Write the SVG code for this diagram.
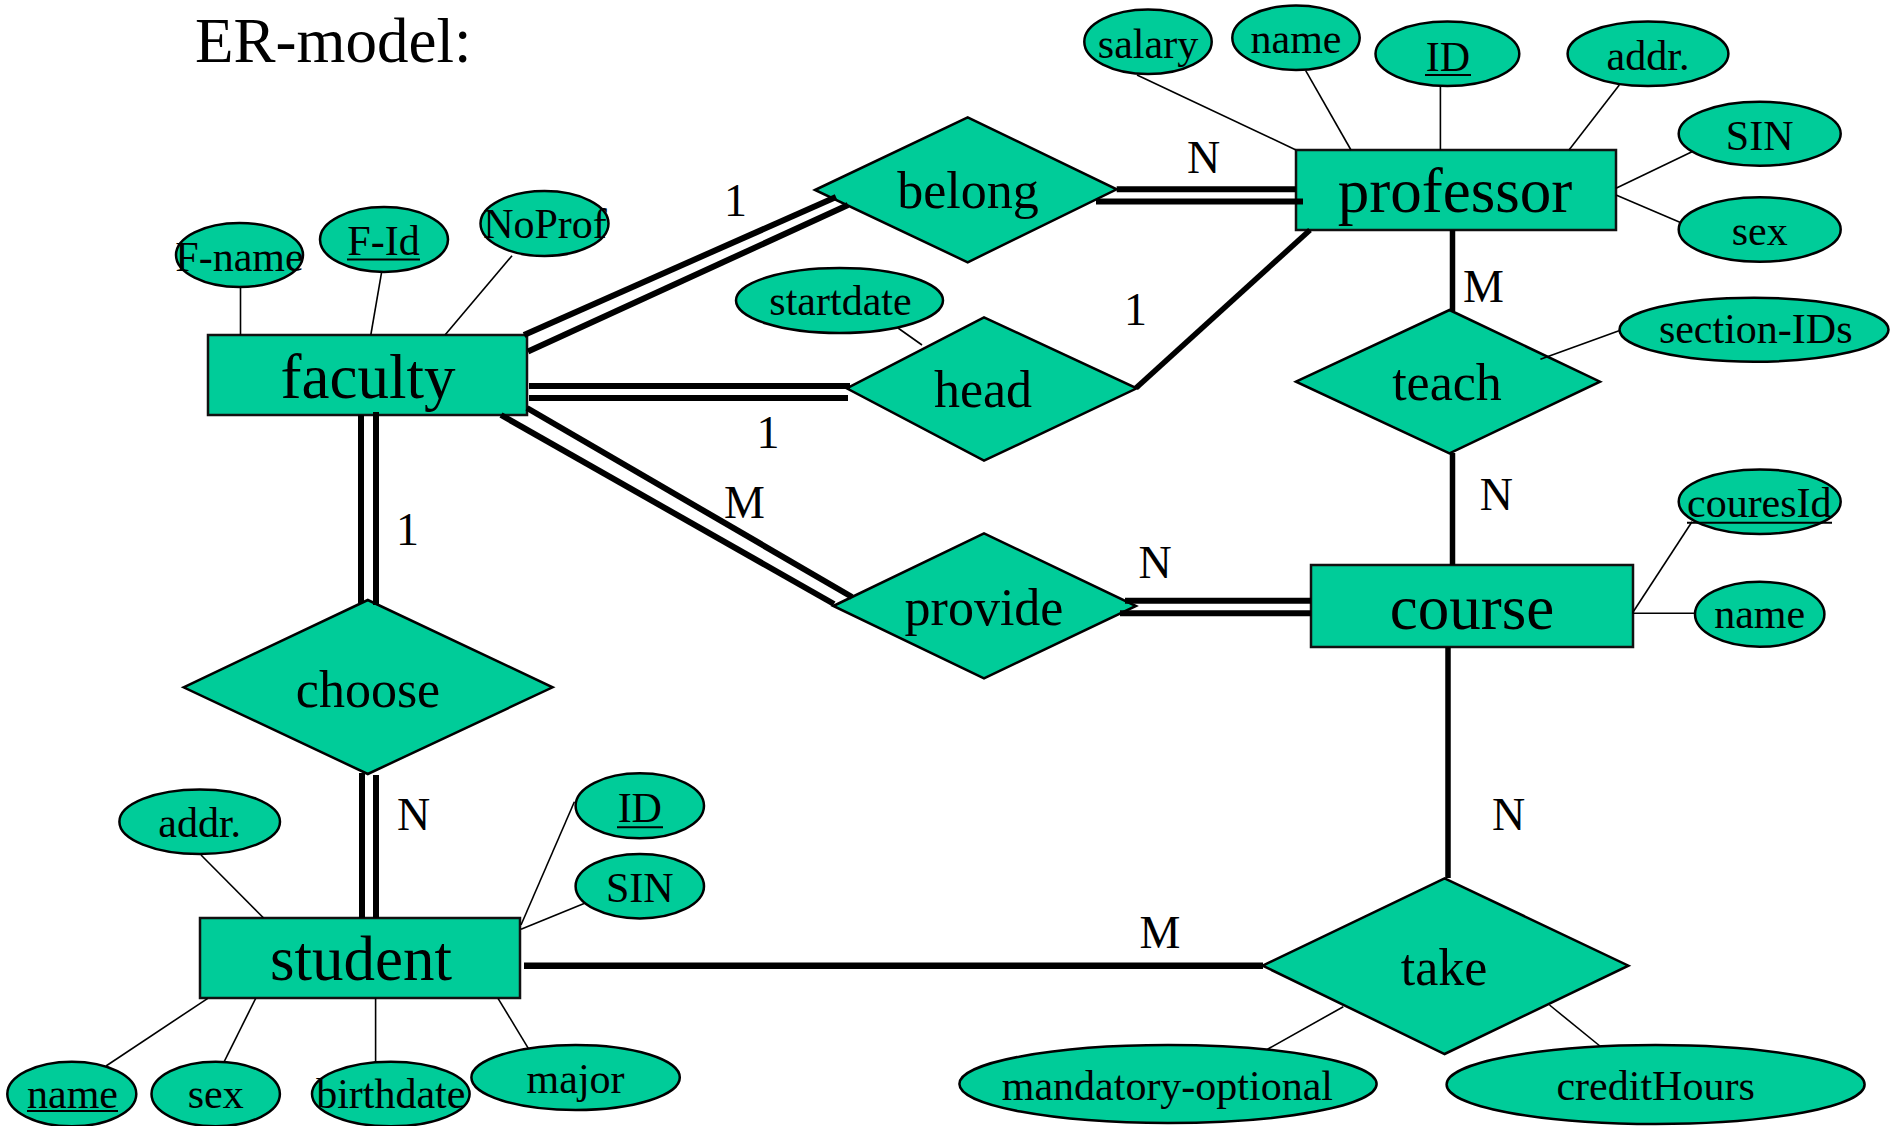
<svg xmlns="http://www.w3.org/2000/svg" width="1891" height="1126" viewBox="0 0 1891 1126">
  <style>
    text { font-family: "Liberation Serif", "Times New Roman", serif; fill: #000; }
    .ent rect { fill: #00CC99; stroke: #111; stroke-width: 2.5; }
    .rel polygon { fill: #00CC99; stroke: #000; stroke-width: 2.5; }
    .att ellipse { fill: #00CC99; stroke: #000; stroke-width: 2.5; }
    .ent text { font-size: 63px; text-anchor: middle; }
    .rel text { font-size: 52px; text-anchor: middle; }
    .att text { font-size: 42px; text-anchor: middle; }
    .key { stroke: #000; stroke-width: 2; }
    .card { font-size: 46px; text-anchor: middle; }
    .title { font-size: 63px; }
    #connectors line { stroke: #000; stroke-linecap: butt; }
    #connectors .dbl { stroke-width: 6; }
    #connectors .one { stroke-width: 5.5; }
    #connectors .attr { stroke-width: 1.6; }
  </style>

  <text class="title" x="195" y="62">ER-model:</text>

  <!-- entities -->
  <g id="faculty" class="ent">
    <rect x="208" y="335" width="319" height="80"/>
    <text x="368" y="398">faculty</text>
  </g>
  <g id="professor" class="ent">
    <rect x="1296" y="150" width="320" height="80"/>
    <text x="1455" y="212">professor</text>
  </g>
  <g id="course" class="ent">
    <rect x="1311" y="565" width="322" height="82"/>
    <text x="1472" y="629">course</text>
  </g>
  <g id="student" class="ent">
    <rect x="200" y="918" width="320" height="80"/>
    <text x="361" y="980">student</text>
  </g>

  <!-- relationships -->
  <g id="belong" class="rel">
    <polygon points="815,190 967.7,117.3 1116.7,189.3 967.7,262.3"/>
    <text x="968" y="208">belong</text>
  </g>
  <g id="head" class="rel">
    <polygon points="846.7,388.3 984,317.3 1136.7,388.3 984,460.7"/>
    <text x="983" y="407">head</text>
  </g>
  <g id="provide" class="rel">
    <polygon points="833.3,606 984,533.3 1136,606 984,678.3"/>
    <text x="984" y="625">provide</text>
  </g>
  <g id="teach" class="rel">
    <polygon points="1296,381.7 1449.5,310 1600,381.7 1449.5,453.3"/>
    <text x="1447" y="400">teach</text>
  </g>
  <g id="choose" class="rel">
    <polygon points="183.6,687.3 367.8,600 552.6,687.3 367.8,774"/>
    <text x="368" y="707">choose</text>
  </g>
  <g id="take" class="rel">
    <polygon points="1262.7,965.7 1444.6,878.3 1628.4,965.7 1444.6,1054"/>
    <text x="1444" y="985">take</text>
  </g>

  <!-- attributes -->
  <g id="faculty-fname" class="att">
    <ellipse cx="239.5" cy="255" rx="63.5" ry="32"/>
    <text x="239.5" y="271">F-name</text>
  </g>
  <g id="faculty-fid" class="att">
    <ellipse cx="384" cy="239.5" rx="64" ry="32.5"/>
    <text x="383.5" y="255">F-Id</text>
    <line class="key" x1="347" y1="259.5" x2="420" y2="259.5"/>
  </g>
  <g id="faculty-noprof" class="att">
    <ellipse cx="544.5" cy="223.5" rx="64" ry="32.5"/>
    <text x="545" y="238">NoProf</text>
  </g>
  <g id="head-startdate" class="att">
    <ellipse cx="839.5" cy="300.5" rx="103.5" ry="32.5"/>
    <text x="840.5" y="315">startdate</text>
  </g>
  <g id="prof-salary" class="att">
    <ellipse cx="1148" cy="41.7" rx="63.7" ry="32.3"/>
    <text x="1148" y="58">salary</text>
  </g>
  <g id="prof-name" class="att">
    <ellipse cx="1296" cy="37.8" rx="63.7" ry="32.2"/>
    <text x="1296" y="53">name</text>
  </g>
  <g id="prof-id" class="att">
    <ellipse cx="1447.4" cy="53.8" rx="71.9" ry="32.2"/>
    <text x="1448" y="70.5">ID</text>
    <line class="key" x1="1425" y1="75" x2="1471" y2="75"/>
  </g>
  <g id="prof-addr" class="att">
    <ellipse cx="1648" cy="53.8" rx="80.4" ry="32.2"/>
    <text x="1648" y="70">addr.</text>
  </g>
  <g id="prof-sin" class="att">
    <ellipse cx="1759.7" cy="133.7" rx="81" ry="32"/>
    <text x="1759.7" y="150">SIN</text>
  </g>
  <g id="prof-sex" class="att">
    <ellipse cx="1759.7" cy="229.5" rx="81" ry="32.2"/>
    <text x="1759.7" y="245">sex</text>
  </g>
  <g id="teach-sectionids" class="att">
    <ellipse cx="1754" cy="329.7" rx="134.5" ry="32"/>
    <text x="1755.7" y="343.3">section-IDs</text>
  </g>
  <g id="course-id" class="att">
    <ellipse cx="1759.7" cy="501.7" rx="81" ry="32.3"/>
    <text x="1759.3" y="517.3">couresId</text>
    <line class="key" x1="1687" y1="522.7" x2="1832" y2="522.7"/>
  </g>
  <g id="course-name" class="att">
    <ellipse cx="1759.7" cy="614.2" rx="64.7" ry="32.5"/>
    <text x="1759.7" y="628.3">name</text>
  </g>
  <g id="student-addr" class="att">
    <ellipse cx="199.7" cy="821.7" rx="80.3" ry="32.3"/>
    <text x="199.7" y="837.3">addr.</text>
  </g>
  <g id="student-id" class="att">
    <ellipse cx="639.8" cy="805.8" rx="64.2" ry="32.5"/>
    <text x="639.8" y="821.7">ID</text>
    <line class="key" x1="617" y1="827.3" x2="663" y2="827.3"/>
  </g>
  <g id="student-sin" class="att">
    <ellipse cx="639.8" cy="886.2" rx="64.2" ry="32.2"/>
    <text x="639.8" y="901.7">SIN</text>
  </g>
  <g id="student-name" class="att">
    <ellipse cx="71.8" cy="1094" rx="64.5" ry="32.3"/>
    <text x="72.5" y="1108">name</text>
    <line class="key" x1="27" y1="1111" x2="118" y2="1111"/>
  </g>
  <g id="student-sex" class="att">
    <ellipse cx="215.7" cy="1094" rx="64.2" ry="32.3"/>
    <text x="215.7" y="1108">sex</text>
  </g>
  <g id="student-birthdate" class="att">
    <ellipse cx="390.8" cy="1094" rx="78.8" ry="32.3"/>
    <text x="390.8" y="1108">birthdate</text>
  </g>
  <g id="student-major" class="att">
    <ellipse cx="575.6" cy="1077.5" rx="104.2" ry="32.5"/>
    <text x="575.6" y="1093.3">major</text>
  </g>
  <g id="take-mandatory" class="att">
    <ellipse cx="1168" cy="1084" rx="208.6" ry="39"/>
    <text x="1167.4" y="1100">mandatory-optional</text>
  </g>
  <g id="take-credithours" class="att">
    <ellipse cx="1655.6" cy="1084.5" rx="209" ry="39.5"/>
    <text x="1655.6" y="1100">creditHours</text>
  </g>

  <!-- connectors -->
  <g id="connectors">
    <!-- total participation: double lines -->
    <line class="dbl" x1="524" y1="335" x2="836" y2="197"/>
    <line class="dbl" x1="528" y1="351.5" x2="848" y2="205"/>
    <line class="dbl" x1="1116.7" y1="189.3" x2="1296" y2="189.3"/>
    <line class="dbl" x1="1096" y1="201.5" x2="1303" y2="201.5"/>
    <line class="dbl" x1="529" y1="386" x2="850" y2="386"/>
    <line class="dbl" x1="529" y1="398" x2="848" y2="398"/>
    <line class="dbl" x1="527" y1="408" x2="852" y2="597"/>
    <line class="dbl" x1="501" y1="415" x2="834" y2="604"/>
    <line class="dbl" x1="1125" y1="600.7" x2="1311" y2="600.7"/>
    <line class="dbl" x1="1120" y1="613.3" x2="1311" y2="613.3"/>
    <line class="dbl" x1="361" y1="415" x2="361" y2="603"/>
    <line class="dbl" x1="376" y1="412" x2="376" y2="605"/>
    <line class="dbl" x1="362" y1="773" x2="362" y2="918"/>
    <line class="dbl" x1="376" y1="775" x2="376" y2="918"/>
    <!-- partial participation: single lines -->
    <line class="one" x1="1136" y1="388" x2="1310" y2="230"/>
    <line class="one" x1="1452.5" y1="230" x2="1452.5" y2="311"/>
    <line class="one" x1="1452.5" y1="453" x2="1452.5" y2="565"/>
    <line class="one" x1="1448" y1="647" x2="1448" y2="878"/>
    <line class="one" x1="524" y1="965.7" x2="1263" y2="965.7" style="stroke-width:6.5"/>
    <!-- attribute links -->
    <line class="attr" x1="240.5" y1="287" x2="240.5" y2="335"/>
    <line class="attr" x1="381.7" y1="271.7" x2="370.8" y2="335"/>
    <line class="attr" x1="512" y1="255.7" x2="445" y2="335"/>
    <line class="attr" x1="898" y1="328" x2="922" y2="345"/>
    <line class="attr" x1="1137" y1="75" x2="1296" y2="150"/>
    <line class="attr" x1="1305.7" y1="70.7" x2="1351" y2="150"/>
    <line class="attr" x1="1440.4" y1="86" x2="1440.4" y2="150"/>
    <line class="attr" x1="1619.3" y1="85" x2="1569" y2="150"/>
    <line class="attr" x1="1692" y1="151.7" x2="1616" y2="188.3"/>
    <line class="attr" x1="1616" y1="195" x2="1681" y2="222.7"/>
    <line class="attr" x1="1619" y1="330.7" x2="1540.4" y2="359.3"/>
    <line class="attr" x1="1692" y1="521.7" x2="1632.6" y2="612.7"/>
    <line class="attr" x1="1632.6" y1="613.3" x2="1695" y2="613.3"/>
    <line class="attr" x1="201" y1="855" x2="263.6" y2="918"/>
    <line class="attr" x1="574.4" y1="801.7" x2="521" y2="925"/>
    <line class="attr" x1="584.7" y1="903.3" x2="521" y2="929.3"/>
    <line class="attr" x1="207.8" y1="998.3" x2="106" y2="1066"/>
    <line class="attr" x1="255.7" y1="998.3" x2="224.2" y2="1061.7"/>
    <line class="attr" x1="375.6" y1="998.3" x2="375.6" y2="1061.7"/>
    <line class="attr" x1="498" y1="998.3" x2="528.3" y2="1048.3"/>
    <line class="attr" x1="1343.3" y1="1006.7" x2="1267.5" y2="1049.3"/>
    <line class="attr" x1="1549.5" y1="1005" x2="1599.9" y2="1046"/>
  </g>

  <!-- cardinalities -->
  <g id="cardinalities">
    <text class="card" x="735.5" y="216">1</text>
    <text class="card" x="1203.7" y="172.7">N</text>
    <text class="card" x="1135.5" y="324.5">1</text>
    <text class="card" x="1483.4" y="301.7">M</text>
    <text class="card" x="768" y="447.5">1</text>
    <text class="card" x="407.5" y="545">1</text>
    <text class="card" x="744.5" y="518.3">M</text>
    <text class="card" x="1155" y="578.3">N</text>
    <text class="card" x="1496.4" y="510">N</text>
    <text class="card" x="413.5" y="830">N</text>
    <text class="card" x="1508.7" y="830">N</text>
    <text class="card" x="1160" y="948.3">M</text>
  </g>
</svg>
